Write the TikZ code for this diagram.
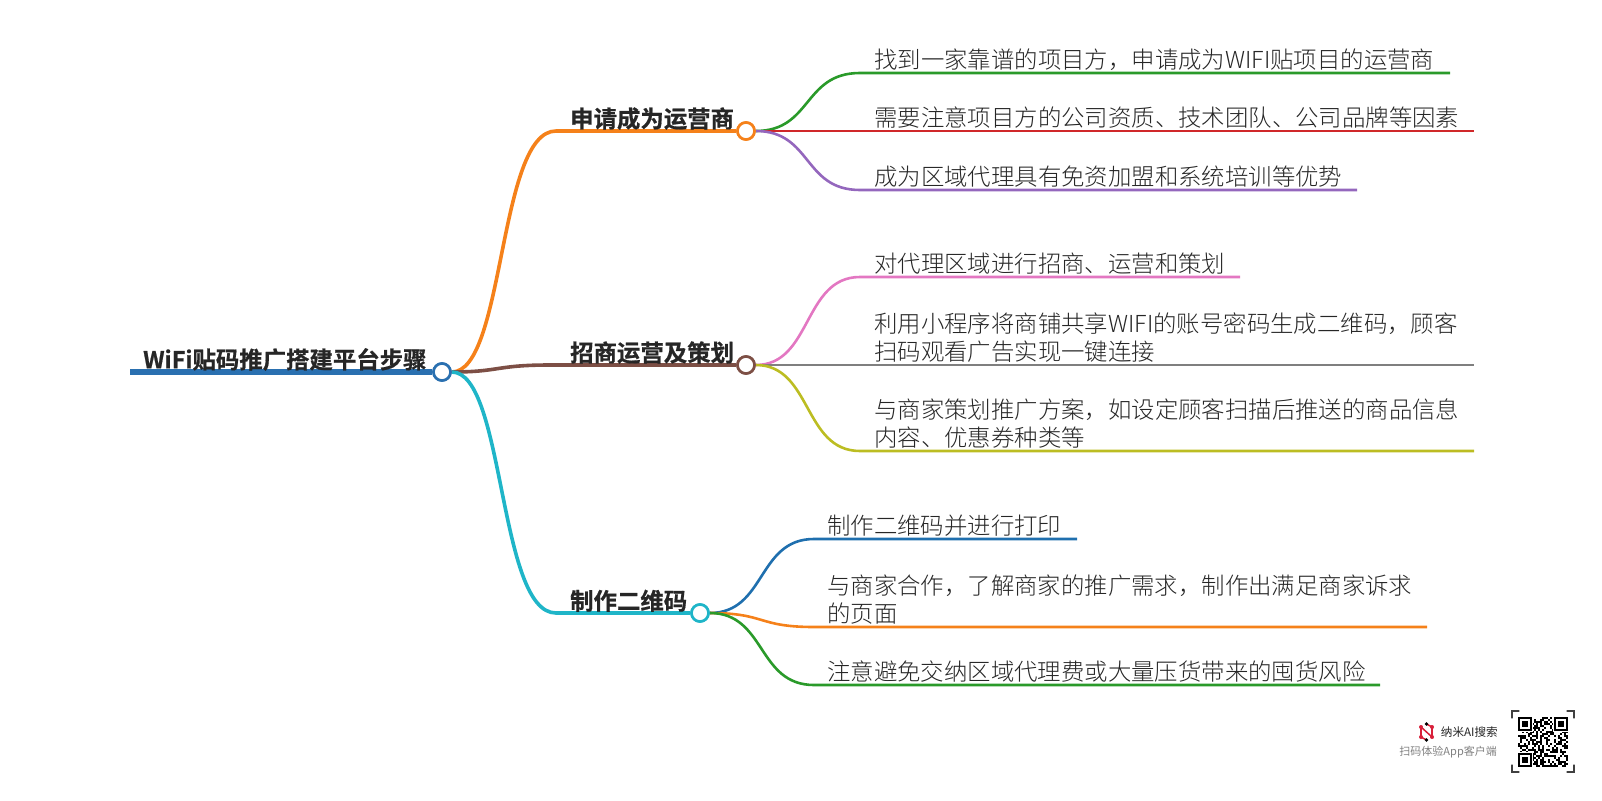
\documentclass[tikz,border=0pt]{standalone}
\usepackage{fontspec}
\setmainfont[UprightFont=* Light,BoldFont=* Bold,BoldFeatures={FakeBold=0.7}]{Noto Sans CJK SC}
\newfontfamily\footfont{Noto Sans CJK SC}
\definecolor{rootblue}{HTML}{2A70B0}
\definecolor{mainorange}{HTML}{F5811A}
\definecolor{mainbrown}{HTML}{7D4F45}
\definecolor{maincyan}{HTML}{1FB5C8}
\definecolor{leafgreen}{HTML}{2A9A2A}
\definecolor{leafred}{HTML}{D0282A}
\definecolor{leafpurple}{HTML}{9467BD}
\definecolor{leafpink}{HTML}{E377C2}
\definecolor{leafgray}{HTML}{7F7F7F}
\definecolor{leafolive}{HTML}{BCBD22}
\definecolor{leafblue}{HTML}{1F6FAE}
\definecolor{textdark}{HTML}{262626}
\definecolor{logored}{HTML}{D8203A}
\tikzset{
  hub/.style={circle, draw=#1, fill=white, line width=2.6pt, minimum size=17pt, inner sep=0pt},
  leafline/.style={draw=#1, line width=2.6pt},
  mainline/.style={draw=#1, line width=3.6pt},
  leaftext/.style={anchor=south west, inner sep=0pt, xshift=-1pt, yshift=2.5pt, align=left, text=textdark, font=\fontsize{23.4}{28}\selectfont},
  maintext/.style={anchor=south west, inner sep=0pt, yshift=1pt, text=textdark, font=\fontsize{23.4}{29}\selectfont\bfseries},
  foottext/.style={anchor=east, inner sep=0pt, font=\fontsize{#1}{14}\footfont},
  qrcorner/.style={draw=black!75, line width=1.2pt, line cap=round},
}
\begin{document}
\begin{tikzpicture}[x=1pt,y=-1pt]
    \useasboundingbox (0,0) rectangle (1602,800);

    % hubs
    \coordinate (rootstart) at (130,372);
    \node[hub=rootblue] (root) at (442,372) {};
    \node[hub=mainorange] (apply) at (746,131) {};
    \node[hub=mainbrown] (invest) at (746,365) {};
    \node[hub=maincyan] (qrcode) at (700,613) {};

    % free ends of the lines
    \coordinate (applytop) at (556,131);
    \coordinate (investtop) at (550,365);
    \coordinate (qrcodetop) at (556,613);
    \coordinate (a1s) at (860,73);   \coordinate (a1e) at (1450,73);
    \coordinate (a2e) at (1474,131);
    \coordinate (a3s) at (860,190);  \coordinate (a3e) at (1357,190);
    \coordinate (b1s) at (860,277);  \coordinate (b1e) at (1240,277);
    \coordinate (b2e) at (1474,365);
    \coordinate (b3s) at (860,451);  \coordinate (b3e) at (1474,451);
    \coordinate (c1s) at (814,539);  \coordinate (c1e) at (1077,539);
    \coordinate (c2s) at (814,627);  \coordinate (c2e) at (1427,627);
    \coordinate (c3s) at (814,685);  \coordinate (c3e) at (1380,685);

    % root and main branches
    \draw[draw=rootblue, line width=6pt] (rootstart) -- (root);
    \draw[mainline=mainorange] (root.east) .. controls (505,372) and (498,131) .. (applytop) -- (apply);
    \draw[mainline=mainbrown] (root.east) .. controls (500,372) and (495,365) .. (investtop) -- (invest);
    \draw[mainline=maincyan] (root.east) .. controls (505,372) and (498,613) .. (qrcodetop) -- (qrcode);

    % leaves
    \draw[leafline=leafgreen] (apply.east) .. controls (812,131) and (803,73) .. (a1s) -- (a1e);
    \draw[leafline=leafred] (apply.east) -- (a2e);
    \draw[leafline=leafpurple] (apply.east) .. controls (812,131) and (803,190) .. (a3s) -- (a3e);
    \draw[leafline=leafpink] (invest.east) .. controls (812,365) and (803,277) .. (b1s) -- (b1e);
    \draw[leafline=leafgray] (invest.east) -- (b2e);
    \draw[leafline=leafolive] (invest.east) .. controls (812,365) and (803,451) .. (b3s) -- (b3e);
    \draw[leafline=leafblue] (qrcode.east) .. controls (766,613) and (757,539) .. (c1s) -- (c1e);
    \draw[leafline=mainorange] (qrcode.east) .. controls (766,613) and (757,627) .. (c2s) -- (c2e);
    \draw[leafline=leafgreen] (qrcode.east) .. controls (766,613) and (757,685) .. (c3s) -- (c3e);

    % redraw hubs over the lines
    \node[hub=rootblue] at (root) {};
    \node[hub=mainorange] at (apply) {};
    \node[hub=mainbrown] at (invest) {};
    \node[hub=maincyan] at (qrcode) {};

    % labels
    \node[maintext] (roottext) at (143,372) {WiFi贴码推广搭建平台步骤};
    \node[maintext] (applytext) at (570,131) {申请成为运营商};
    \node[maintext] (investtext) at (570,365) {招商运营及策划};
    \node[maintext] (qrcodetext) at (570,613) {制作二维码};
    \node[leaftext] (a1) at (875,73) {找到一家靠谱的项目方，申请成为WIFI贴项目的运营商};
    \node[leaftext] (a2) at (875,131) {需要注意项目方的公司资质、技术团队、公司品牌等因素};
    \node[leaftext] (a3) at (875,190) {成为区域代理具有免资加盟和系统培训等优势};
    \node[leaftext] (b1) at (875,277) {对代理区域进行招商、运营和策划};
    \node[leaftext] (b2) at (875,365) {利用小程序将商铺共享WIFI的账号密码生成二维码，顾客\\扫码观看广告实现一键连接};
    \node[leaftext] (b3) at (875,451) {与商家策划推广方案，如设定顾客扫描后推送的商品信息\\内容、优惠券种类等};
    \node[leaftext] (c1) at (828,539) {制作二维码并进行打印};
    \node[leaftext] (c2) at (828,627) {与商家合作，了解商家的推广需求，制作出满足商家诉求\\的页面};
    \node[leaftext] (c3) at (828,685) {注意避免交纳区域代理费或大量压货带来的囤货风险};

    % footer text and logo
    \node[foottext=11.6, text=black!85] (brand) at (1498,732) {纳米AI搜索};
    \node[foottext=11, text=black!50] (slogan) at (1497,752) {扫码体验App客户端};
    \draw[draw=logored, line width=1.5pt] (1421,727) -- (1421,737);
    \draw[draw=logored, line width=1.5pt] (1432,727) -- (1432,737);
    \draw[draw=logored, line width=1.5pt] (1421,727) -- (1432,737);
    \draw[draw=logored, line width=1.5pt] (1421,737) -- (1426.5,740);
    \draw[draw=logored, line width=1.5pt] (1432,727) -- (1426.5,724);
    \fill[logored] (1421,727) circle (2) (1421,737) circle (2) (1432,727) circle (2) (1432,737) circle (2);
    \fill[black] (1426.5,724) circle (1.8) (1426.5,740) circle (1.8);

    % qr code
    \pgfmathsetseed{23}
    \foreach \i in {0,...,24} {
        \foreach \j in {0,...,24} {
            \pgfmathsetmacro\qrval{rnd}
            \ifdim\qrval pt<0.5pt
                \fill[black] (1518+2*\i,717+2*\j) rectangle ++(2,2);
            \fi
        }
    }
    \foreach \fx/\fy in {1518/717, 1554/717, 1518/753} {
        \fill[white] (\fx-1,\fy-1) rectangle ++(16,16);
        \draw[draw=black, line width=2pt] (\fx+1,\fy+1) rectangle ++(12,12);
        \fill[black] (\fx+4,\fy+4) rectangle ++(6,6);
    }
    \draw[qrcorner] (1512,718) -- (1512,711) -- (1519,711);
    \draw[qrcorner] (1567,711) -- (1574,711) -- (1574,718);
    \draw[qrcorner] (1512,765) -- (1512,772) -- (1519,772);
    \draw[qrcorner] (1567,772) -- (1574,772) -- (1574,765);
\end{tikzpicture}
\end{document}
